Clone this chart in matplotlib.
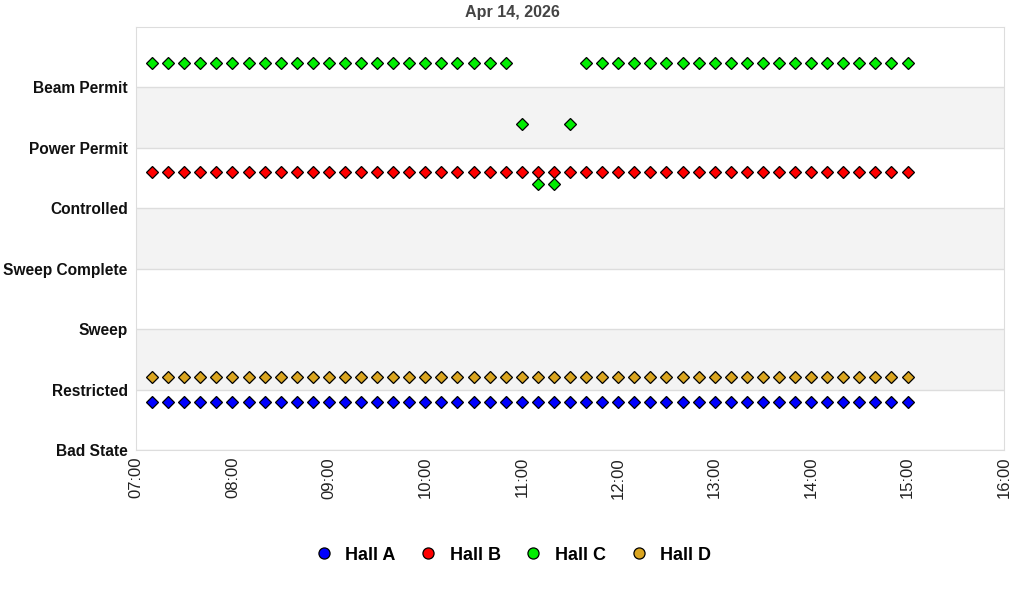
import matplotlib
matplotlib.use("Agg")
import matplotlib.pyplot as plt
import matplotlib.dates as mdates
import numpy as np
import pandas as pd

plt.rcParams['font.family'] = ['Liberation Sans', 'DejaVu Sans']

# state levels, bottom to top
states = ["Bad State", "Restricted", "Sweep", "Sweep Complete",
          "Controlled", "Power Permit", "Beam Permit"]

# samples every 10 minutes
times = pd.date_range("2026-04-14 07:10", "2026-04-14 15:00", freq="10min")
n = len(times)

# state per sample for each hall
hall_a = ["Restricted"] * n
hall_b = ["Power Permit"] * n
hall_c = (["Beam Permit"] * 23
          + ["Power Permit", "Controlled", "Controlled", "Power Permit"]
          + ["Beam Permit"] * 21)
hall_d = ["Restricted"] * n

halls = ["Hall A", "Hall B", "Hall C", "Hall D"]
series = [hall_a, hall_b, hall_c, hall_d]
colors = ["#0000ff", "#ff0000", "#00ee00", "#daa520"]
offsets = [-0.2, -0.4, 0.4, 0.2]  # vertical offset so halls don't overlap

fig = plt.figure(figsize=(10.24, 6), dpi=100)
ax = fig.add_axes([136 / 1024, 150 / 600, 868 / 1024, 423 / 600])

# alternating bands
for lo in (1, 3, 5):
    ax.axhspan(lo, lo + 1, color="#f3f3f3", zorder=0, lw=0)
for y in range(0, 7):
    ax.axhline(y, color="#dddddd", lw=1, zorder=1)

for name, vals, c, off in zip(halls, series, colors, offsets):
    y = np.array([states.index(v) for v in vals]) + off
    ax.plot(times, y, ls="none", marker="D", ms=6.4, mfc=c, mec="black",
            mew=0.9, zorder=3)
    ax.plot([], [], ls="none", marker="o", ms=8, mfc=c, mec="black",
            mew=0.9, label=name)

ax.set_xlim(pd.Timestamp("2026-04-14 07:00"), pd.Timestamp("2026-04-14 16:00"))
ax.set_ylim(0, 7)
ax.set_yticks(range(len(states)))
ax.set_yticklabels(states, fontsize=11.2, fontweight="bold", color="#111111")
ax.xaxis.set_major_locator(mdates.HourLocator())
ax.xaxis.set_major_formatter(mdates.DateFormatter("%H:%M"))
plt.setp(ax.get_xticklabels(), rotation=90, fontsize=12, color="#222222")
ax.tick_params(length=0)
ax.tick_params(axis="x", pad=5)
ax.tick_params(axis="y", pad=6)
for s in ax.spines.values():
    s.set_color("#dddddd")

fig.text(0.5, 1 - 12 / 600, "Apr 14, 2026", ha="center", va="center",
         fontsize=11.6, fontweight="bold", color="#444444")

fig.legend(loc="center", bbox_to_anchor=(0.5, 1 - 555 / 600), ncol=4,
           frameon=False, prop={"size": 13, "weight": "bold"},
           handletextpad=0.6, columnspacing=1.2, handlelength=1.2)

fig.savefig("out.png", dpi=100)
